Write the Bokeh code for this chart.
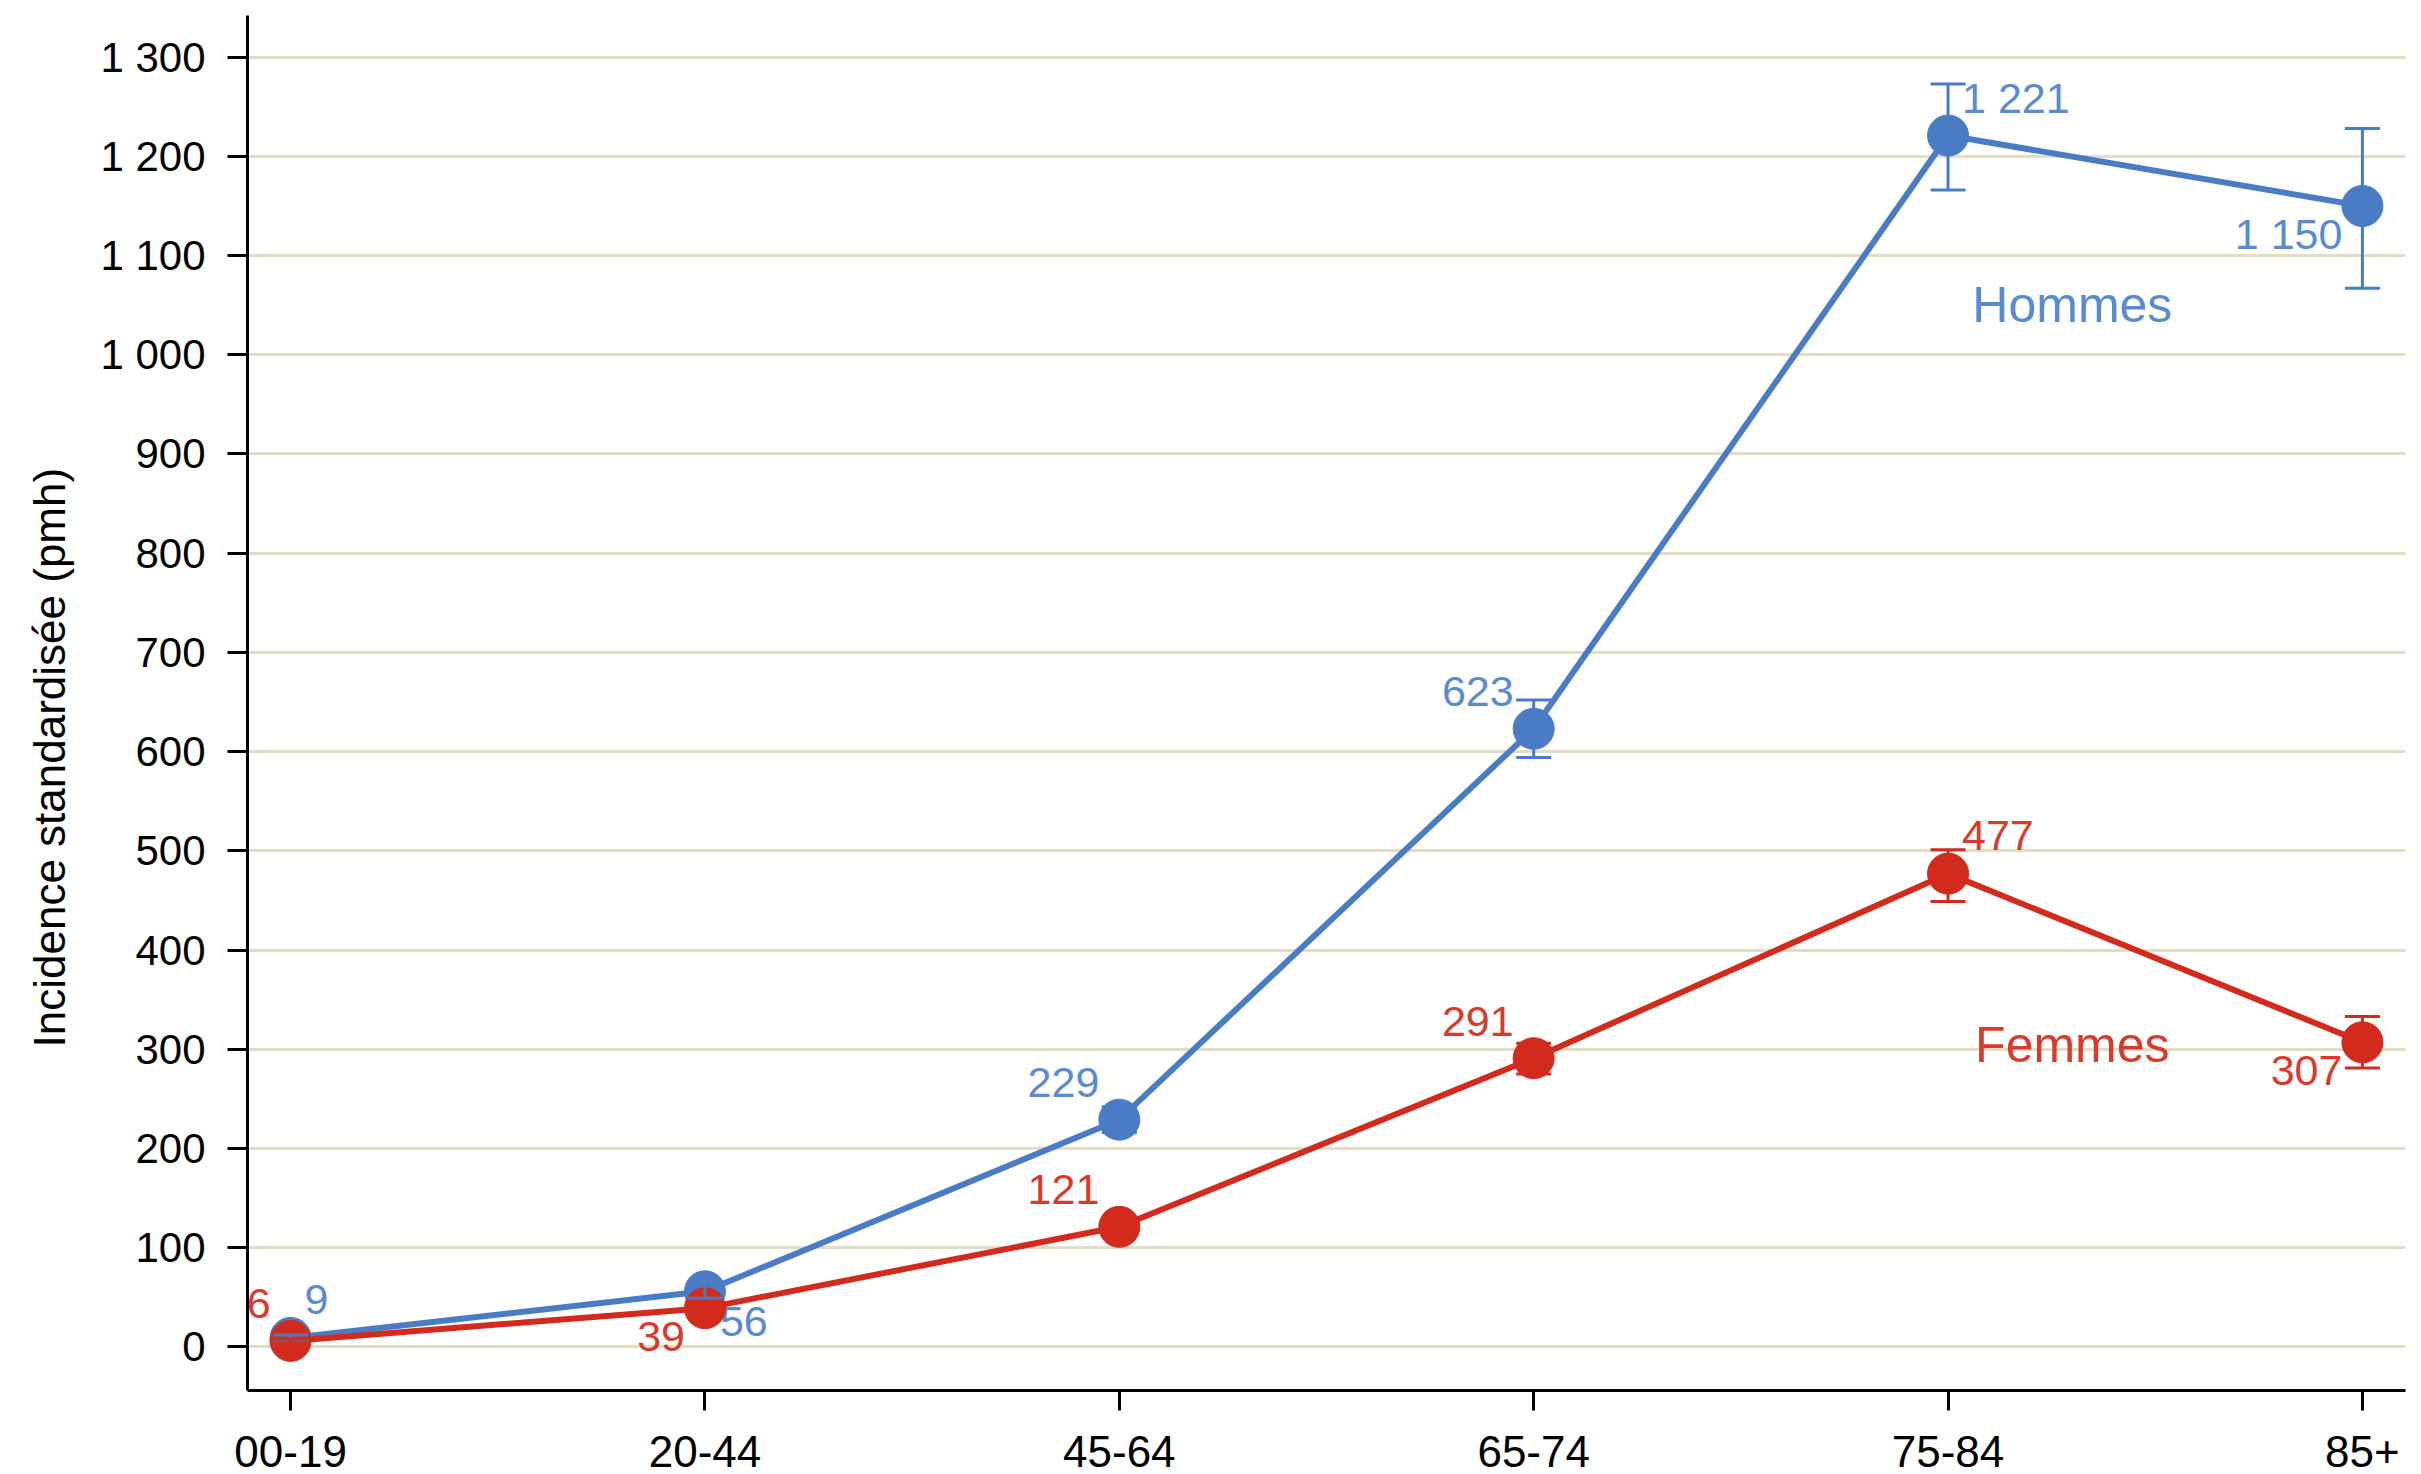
from bokeh.plotting import figure
from bokeh.models import ColumnDataSource, Whisker, TeeHead, FixedTicker, Range1d, Title
from bokeh.core.properties import value
from bokeh.embed import file_html
from bokeh.resources import INLINE

# ---------------- data ----------------
age_groups = ["00-19", "20-44", "45-64", "65-74", "75-84", "85+"]
hommes = [9, 56, 229, 623, 1221, 1150]
hommes_low = [6, 49, 216, 594, 1166, 1067]
hommes_high = [12, 63, 242, 652, 1273, 1228]
femmes = [6, 39, 121, 291, 477, 307]
femmes_low = [4, 33, 112, 275, 449, 281]
femmes_high = [8, 45, 130, 306, 501, 333]
y_ticks = [0, 100, 200, 300, 400, 500, 600, 700, 800, 900, 1000, 1100, 1200, 1300]
y_tick_labels = ["0", "100", "200", "300", "400", "500", "600", "700", "800",
                 "900", "1 000", "1 100", "1 200", "1 300"]
series_names = ["Hommes", "Femmes"]
series_name_x = [4.3, 4.3]
series_name_y = [1050, 304]
y_title = "Incidence standardisée (pmh)"

# ---------------- style ----------------
BLUE = "#4a7cc6"
BLUE_TXT = "#5a8ad0"
RED = "#d22b1e"
RED_TXT = "#d83a2c"
FONT = "Liberation Sans"

# label placement per point: (align, dx, dy) in screen px (dy positive = down)
place = {
    "la": ("right", -20, -37),
    "ra": ("left", 14, -38),
    "lb": ("right", -20, 28),
    "rb": ("left", 15, 30),
}
hommes_place = ["ra", "rb", "la", "la", "ra", "lb"]
femmes_place = ["la", "lb", "la", "la", "ra", "lb"]

xs = list(range(len(age_groups)))


def fmt(v):
    return f"{v:,}".replace(",", " ")


p = figure(width=2418, height=1486, output_backend="svg", toolbar_location=None,
           x_range=Range1d(-0.104, 5.104), y_range=Range1d(-44, 1342),
           min_border_left=247, min_border_right=13, min_border_top=15,
           min_border_bottom=96)
p.outline_line_color = None
p.background_fill_color = "white"
p.border_fill_color = "white"

p.xgrid.grid_line_color = None
p.ygrid.grid_line_color = "#e2ddc4"
p.ygrid.grid_line_width = 3

for ax in (p.xaxis[0], p.yaxis[0]):
    ax.axis_line_color = "black"
    ax.axis_line_width = 3
    ax.major_tick_line_color = "black"
    ax.major_tick_line_width = 3
    ax.major_tick_out = 20
    ax.major_tick_in = 0
    ax.minor_tick_line_color = None
    ax.major_label_text_font = FONT
    ax.major_label_text_color = "black"

p.xaxis.ticker = FixedTicker(ticks=xs)
p.xaxis.major_label_overrides = {i: g for i, g in zip(xs, age_groups)}
p.xaxis.major_label_standoff = 25
p.xaxis.major_label_text_font_size = "44px"

p.yaxis.ticker = FixedTicker(ticks=y_ticks)
p.yaxis.major_label_overrides = {t: l for t, l in zip(y_ticks, y_tick_labels)}
p.yaxis.major_label_standoff = 22
p.yaxis.major_label_text_font_size = "42px"

# vertical axis title, left of the tick labels; it starts 343px above the frame bottom
p.add_layout(Title(text=y_title, align="left", offset=343, standoff=44,
                   vertical_align="top",
                   text_font=FONT, text_font_size="44px",
                   text_font_style="normal", text_color="black"), "left")

series = [
    (hommes, hommes_low, hommes_high, hommes_place, BLUE, BLUE_TXT),
    (femmes, femmes_low, femmes_high, femmes_place, RED, RED_TXT),
]

marker_sources = []
for vals, lo, hi, plc, col, tcol in series:
    src = ColumnDataSource(dict(x=xs, y=vals, lo=lo, hi=hi))
    p.line("x", "y", source=src, line_color=col, line_width=6)
    w = Whisker(base="x", upper="hi", lower="lo", source=src,
                line_color=col, line_width=3, level="glyph",
                upper_head=TeeHead(size=35, line_color=col, line_width=3),
                lower_head=TeeHead(size=35, line_color=col, line_width=3))
    p.add_layout(w)
    for align in ("left", "right"):
        idx = [i for i in xs if place[plc[i]][0] == align]
        lsrc = ColumnDataSource(dict(
            x=[xs[i] for i in idx],
            y=[vals[i] for i in idx],
            t=[fmt(vals[i]) for i in idx],
            dx=[place[plc[i]][1] for i in idx],
            dy=[place[plc[i]][2] for i in idx],
        ))
        p.text("x", "y", text="t", source=lsrc, x_offset="dx", y_offset="dy",
               text_align=align, text_baseline="middle",
               text_font=value(FONT), text_font_size="43px", text_color=tcol)
    marker_sources.append((src, col))

for src, col in marker_sources:
    p.scatter("x", "y", source=src, size=41, fill_color=col, line_color=col)

name_src = ColumnDataSource(dict(x=series_name_x, y=series_name_y, t=series_names,
                                 c=[BLUE_TXT, RED_TXT]))
p.text("x", "y", text="t", source=name_src, text_color="c", text_align="center",
       text_baseline="middle", text_font=value(FONT), text_font_size="50px")

open("out.html", "w").write(file_html(p, INLINE))
